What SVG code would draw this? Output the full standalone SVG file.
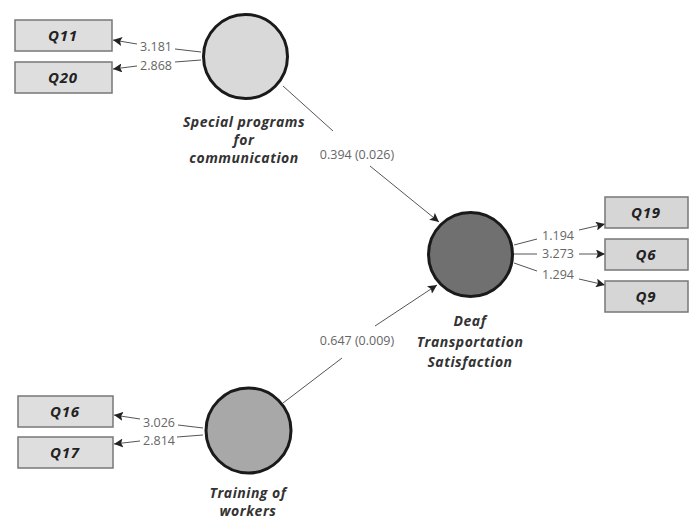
<svg xmlns="http://www.w3.org/2000/svg" width="691" height="520" viewBox="0 0 691 520">
<defs>
<marker id="arr" viewBox="0 0 10 10" refX="10" refY="5" markerWidth="9" markerHeight="9" markerUnits="userSpaceOnUse" orient="auto">
<path d="M0,0 L10,5 L0,10 L2,5 z" fill="#222"/>
</marker>
<style>
.box{fill:#dedede;stroke:#777;stroke-width:1.5}
.boxr{fill:#d6d6d6;stroke:#777;stroke-width:1.5}
.bt{font-family:"Open Sans","Noto Sans",sans-serif;font-weight:bold;font-style:italic;font-size:15px;letter-spacing:0.8px;fill:#222;text-anchor:middle}
.lv{stroke:#1a1a1a;stroke-width:3}
.lt{font-family:"Open Sans","Noto Sans",sans-serif;font-weight:bold;font-style:italic;font-size:14px;letter-spacing:0.5px;fill:#333;text-anchor:middle}
.ln{stroke:#555;stroke-width:1;fill:none}
.num{font-family:"Open Sans","Noto Sans",sans-serif;font-size:12.5px;fill:#666;text-anchor:middle}
</style>
</defs>
<rect width="691" height="520" fill="#fff"/>
<g id="connectors">
<path class="ln" d="M201,52 L175,49"/><path class="ln" d="M137,44 L113,40" marker-end="url(#arr)"/>
<path class="ln" d="M201,60 L175,62"/><path class="ln" d="M137,66 L113,69" marker-end="url(#arr)"/>
<path class="ln" d="M203,428 L178,425"/><path class="ln" d="M140,419 L114,415" marker-end="url(#arr)"/>
<path class="ln" d="M203,435 L177,437"/><path class="ln" d="M140,441 L114,444" marker-end="url(#arr)"/>
<path class="ln" d="M514,245 L537,239"/><path class="ln" d="M579,230 L605,224" marker-end="url(#arr)"/>
<path class="ln" d="M514,254 L537,254"/><path class="ln" d="M579,254 L605,254" marker-end="url(#arr)"/>
<path class="ln" d="M514,263 L537,271"/><path class="ln" d="M579,279 L605,285" marker-end="url(#arr)"/>
<path class="ln" d="M283,86 L333,131"/><path class="ln" d="M370,166 L439,222" marker-end="url(#arr)"/>
<path class="ln" d="M283,403 L342,358"/><path class="ln" d="M375,326 L437,285" marker-end="url(#arr)"/>
<text class="num" x="156" y="51">3.181</text>
<text class="num" x="156" y="70">2.868</text>
<text class="num" x="159" y="427">3.026</text>
<text class="num" x="159" y="445">2.814</text>
<text class="num" x="558" y="240">1.194</text>
<text class="num" x="558" y="258">3.273</text>
<text class="num" x="558" y="279">1.294</text>
<text class="num" x="357" y="159">0.394 (0.026)</text>
<text class="num" x="357" y="345">0.647 (0.009)</text>
</g>
<g id="Q11"><rect class="box" x="15" y="20" width="97" height="31"/><text class="bt" x="63" y="41">Q11</text></g>
<g id="Q20"><rect class="box" x="15" y="62" width="97" height="31"/><text class="bt" x="63" y="83">Q20</text></g>
<g id="Q16"><rect class="box" x="18" y="396" width="95" height="31"/><text class="bt" x="65" y="417">Q16</text></g>
<g id="Q17"><rect class="box" x="18" y="437" width="95" height="31"/><text class="bt" x="65" y="458">Q17</text></g>
<g id="Q19"><rect class="boxr" x="605" y="197" width="83" height="31"/><text class="bt" x="646" y="218">Q19</text></g>
<g id="Q6"><rect class="boxr" x="605" y="239" width="83" height="31"/><text class="bt" x="646" y="260">Q6</text></g>
<g id="Q9"><rect class="boxr" x="605" y="281" width="83" height="31"/><text class="bt" x="646" y="302">Q9</text></g>
<g id="special"><circle class="lv" cx="245.5" cy="56.5" r="42" fill="#d9d9d9"/>
<text class="lt" x="244" y="127">Special programs</text><text class="lt" x="244" y="145">for</text><text class="lt" x="244" y="163">communication</text></g>
<g id="deaf"><circle class="lv" cx="470.5" cy="254.5" r="42" fill="#707070"/>
<text class="lt" x="470" y="326">Deaf</text><text class="lt" x="470" y="347">Transportation</text><text class="lt" x="470" y="367">Satisfaction</text></g>
<g id="training"><circle class="lv" cx="248.5" cy="430.5" r="42.5" fill="#a8a8a8"/>
<text class="lt" x="248" y="498">Training of</text><text class="lt" x="248" y="516">workers</text></g>
</svg>
